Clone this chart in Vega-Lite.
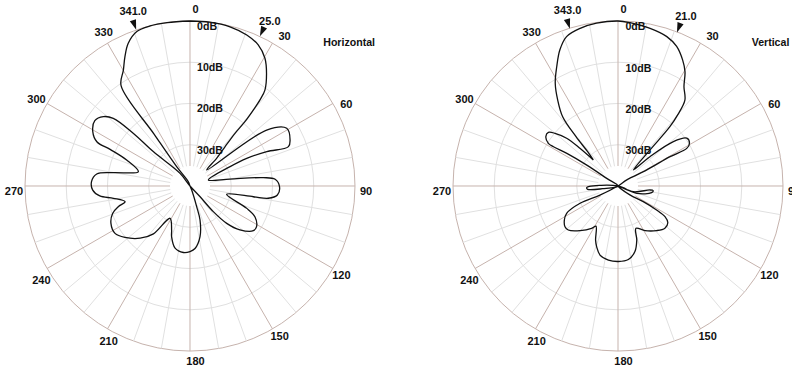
{
  "$schema": "https://vega.github.io/schema/vega-lite/v6.json",
  "padding": 0,
  "spacing": 0,
  "background": "white",
  "config": {
    "view": {"stroke": null},
    "text": {"font": "Liberation Sans", "fontWeight": "bold", "fontSize": 11, "color": "#111"}
  },
  "datasets": {
    "rings": [{"db": 0}, {"db": 10}, {"db": 20}, {"db": 30}],
    "dblabels": [{"db": 0, "label": "0dB"}, {"db": 10, "label": "10dB"}, {"db": 20, "label": "20dB"}, {"db": 30, "label": "30dB"}],
    "spokes": [
      {"angle": 0}, {"angle": 10}, {"angle": 20}, {"angle": 30}, {"angle": 40}, {"angle": 50},
      {"angle": 60}, {"angle": 70}, {"angle": 80}, {"angle": 90}, {"angle": 100}, {"angle": 110},
      {"angle": 120}, {"angle": 130}, {"angle": 140}, {"angle": 150}, {"angle": 160}, {"angle": 170},
      {"angle": 180}, {"angle": 190}, {"angle": 200}, {"angle": 210}, {"angle": 220}, {"angle": 230},
      {"angle": 240}, {"angle": 250}, {"angle": 260}, {"angle": 270}, {"angle": 280}, {"angle": 290},
      {"angle": 300}, {"angle": 310}, {"angle": 320}, {"angle": 330}, {"angle": 340}, {"angle": 350}
    ],
    "markers": [
      {"panel": "H", "angle": 341, "label": "341.0"},
      {"panel": "H", "angle": 25, "label": "25.0"},
      {"panel": "V", "angle": 343, "label": "343.0"},
      {"panel": "V", "angle": 21, "label": "21.0"}
    ],
    "pattern": [
      {"panel": "H", "angle": 0, "db": 0}, {"panel": "H", "angle": 6.9, "db": 0}, {"panel": "H", "angle": 14.1, "db": 0.2},
      {"panel": "H", "angle": 20.6, "db": 0.9}, {"panel": "H", "angle": 25.8, "db": 2.0}, {"panel": "H", "angle": 30.4, "db": 4.1},
      {"panel": "H", "angle": 34.2, "db": 7.0}, {"panel": "H", "angle": 38.0, "db": 10.5}, {"panel": "H", "angle": 39.1, "db": 13.1},
      {"panel": "H", "angle": 39.8, "db": 16.0}, {"panel": "H", "angle": 40.5, "db": 19.5}, {"panel": "H", "angle": 40.5, "db": 23.2},
      {"panel": "H", "angle": 41.7, "db": 27.2}, {"panel": "H", "angle": 43.9, "db": 30.7}, {"panel": "H", "angle": 46.2, "db": 34.4},
      {"panel": "H", "angle": 53.9, "db": 17.0}, {"panel": "H", "angle": 59.2, "db": 12.7}, {"panel": "H", "angle": 65.3, "db": 13.3},
      {"panel": "H", "angle": 68.2, "db": 14.3}, {"panel": "H", "angle": 65.9, "db": 19.6}, {"panel": "H", "angle": 64.0, "db": 24.7},
      {"panel": "H", "angle": 64.2, "db": 29.2}, {"panel": "H", "angle": 71.9, "db": 35.3},
      {"panel": "H", "angle": 80.1, "db": 30.2}, {"panel": "H", "angle": 83.5, "db": 22.1}, {"panel": "H", "angle": 85.5, "db": 19.3},
      {"panel": "H", "angle": 90.4, "db": 18.3}, {"panel": "H", "angle": 95.9, "db": 18.7}, {"panel": "H", "angle": 98.9, "db": 20.8},
      {"panel": "H", "angle": 99.6, "db": 24.4}, {"panel": "H", "angle": 102.8, "db": 30.9},
      {"panel": "H", "angle": 111.5, "db": 25.2}, {"panel": "H", "angle": 115.3, "db": 22.6}, {"panel": "H", "angle": 121.4, "db": 21.1},
      {"panel": "H", "angle": 125.2, "db": 21.2}, {"panel": "H", "angle": 131.3, "db": 23.9}, {"panel": "H", "angle": 135.5, "db": 27.3},
      {"panel": "H", "angle": 137.7, "db": 31.6}, {"panel": "H", "angle": 136.8, "db": 36.5}, {"panel": "H", "angle": 136.8, "db": 40},
      {"panel": "H", "angle": 321.7, "db": 36.1}, {"panel": "H", "angle": 313.1, "db": 27.8}, {"panel": "H", "angle": 312.9, "db": 21.2},
      {"panel": "H", "angle": 311.4, "db": 15.2}, {"panel": "H", "angle": 308.7, "db": 13.1}, {"panel": "H", "angle": 304.5, "db": 12.0},
      {"panel": "H", "angle": 299.2, "db": 13.0}, {"panel": "H", "angle": 295.4, "db": 15.0}, {"panel": "H", "angle": 294.6, "db": 18.7},
      {"panel": "H", "angle": 292.3, "db": 23.4}, {"panel": "H", "angle": 285.5, "db": 27.0},
      {"panel": "H", "angle": 279.9, "db": 21.1}, {"panel": "H", "angle": 277.3, "db": 17.2}, {"panel": "H", "angle": 272.5, "db": 16.1},
      {"panel": "H", "angle": 267.6, "db": 16.4}, {"panel": "H", "angle": 263.7, "db": 18.0}, {"panel": "H", "angle": 260.9, "db": 21.2},
      {"panel": "H", "angle": 256.4, "db": 23.8},
      {"panel": "H", "angle": 253.9, "db": 21.9}, {"panel": "H", "angle": 250.5, "db": 20.1}, {"panel": "H", "angle": 244.7, "db": 18.8},
      {"panel": "H", "angle": 237.7, "db": 18.5}, {"panel": "H", "angle": 231.7, "db": 19.9}, {"panel": "H", "angle": 223.7, "db": 22.5},
      {"panel": "H", "angle": 217.4, "db": 25.4}, {"panel": "H", "angle": 211.7, "db": 30.8},
      {"panel": "H", "angle": 202.6, "db": 28.4}, {"panel": "H", "angle": 199.9, "db": 26.9}, {"panel": "H", "angle": 193.5, "db": 24.5},
      {"panel": "H", "angle": 185.7, "db": 23.8}, {"panel": "H", "angle": 180, "db": 24.1}, {"panel": "H", "angle": 175.4, "db": 24.8},
      {"panel": "H", "angle": 168.8, "db": 27.5}, {"panel": "H", "angle": 163.6, "db": 31.4}, {"panel": "H", "angle": 162.1, "db": 34.7},
      {"panel": "H", "angle": 157, "db": 39.0}, {"panel": "H", "angle": 339, "db": 40},
      {"panel": "H", "angle": 339, "db": 38.9}, {"panel": "H", "angle": 325.4, "db": 34.3}, {"panel": "H", "angle": 325.3, "db": 24.7},
      {"panel": "H", "angle": 325.5, "db": 10.5}, {"panel": "H", "angle": 330.1, "db": 7.6}, {"panel": "H", "angle": 333.3, "db": 4.9},
      {"panel": "H", "angle": 336.6, "db": 2.3}, {"panel": "H", "angle": 341, "db": 0.4}, {"panel": "H", "angle": 346, "db": 0},
      {"panel": "H", "angle": 352, "db": 0}, {"panel": "H", "angle": 360, "db": 0},

      {"panel": "V", "angle": 316.5, "db": 31.3}, {"panel": "V", "angle": 318.5, "db": 28.9}, {"panel": "V", "angle": 319.6, "db": 24.3},
      {"panel": "V", "angle": 321.4, "db": 18.5}, {"panel": "V", "angle": 325, "db": 14.5}, {"panel": "V", "angle": 328.6, "db": 10.8},
      {"panel": "V", "angle": 332.8, "db": 7.5}, {"panel": "V", "angle": 336.9, "db": 4.1}, {"panel": "V", "angle": 341, "db": 1.7},
      {"panel": "V", "angle": 346.5, "db": 0.7}, {"panel": "V", "angle": 352.5, "db": 0.2}, {"panel": "V", "angle": 360, "db": 0},
      {"panel": "V", "angle": 4.2, "db": 0.3}, {"panel": "V", "angle": 11.5, "db": 1.0}, {"panel": "V", "angle": 18.1, "db": 1.9},
      {"panel": "V", "angle": 22.8, "db": 3.3}, {"panel": "V", "angle": 27.2, "db": 5.7}, {"panel": "V", "angle": 30.4, "db": 7.9},
      {"panel": "V", "angle": 33.6, "db": 11.1}, {"panel": "V", "angle": 37.9, "db": 13.6}, {"panel": "V", "angle": 40, "db": 17.5},
      {"panel": "V", "angle": 41.2, "db": 20.9}, {"panel": "V", "angle": 41.6, "db": 28.3}, {"panel": "V", "angle": 43.8, "db": 34.6},
      {"panel": "V", "angle": 47.5, "db": 29.5}, {"panel": "V", "angle": 51.3, "db": 22.8}, {"panel": "V", "angle": 55.2, "db": 19.7},
      {"panel": "V", "angle": 59.1, "db": 19.8}, {"panel": "V", "angle": 61.3, "db": 21.0}, {"panel": "V", "angle": 60.6, "db": 25.5},
      {"panel": "V", "angle": 60.8, "db": 32.0}, {"panel": "V", "angle": 55.3, "db": 37.4}, {"panel": "V", "angle": 60, "db": 40},
      {"panel": "V", "angle": 243.4, "db": 35.1}, {"panel": "V", "angle": 245.5, "db": 29.9}, {"panel": "V", "angle": 242, "db": 25.9},
      {"panel": "V", "angle": 237.6, "db": 24.6}, {"panel": "V", "angle": 232.5, "db": 23.8}, {"panel": "V", "angle": 228.5, "db": 23.9},
      {"panel": "V", "angle": 220.4, "db": 25.8}, {"panel": "V", "angle": 211.9, "db": 27.9}, {"panel": "V", "angle": 208.8, "db": 28.9},
      {"panel": "V", "angle": 202.5, "db": 25.8}, {"panel": "V", "angle": 199.4, "db": 24.4}, {"panel": "V", "angle": 194.6, "db": 22.7},
      {"panel": "V", "angle": 187.4, "db": 21.9}, {"panel": "V", "angle": 179.7, "db": 21.7}, {"panel": "V", "angle": 172, "db": 22.0},
      {"panel": "V", "angle": 165.5, "db": 23.6}, {"panel": "V", "angle": 160.9, "db": 26.1}, {"panel": "V", "angle": 157, "db": 28.85},
      {"panel": "V", "angle": 148.8, "db": 27.35}, {"panel": "V", "angle": 139.1, "db": 25.7}, {"panel": "V", "angle": 132, "db": 24.7},
      {"panel": "V", "angle": 126.4, "db": 25.0}, {"panel": "V", "angle": 123.1, "db": 26.4}, {"panel": "V", "angle": 121.8, "db": 29.0},
      {"panel": "V", "angle": 121.7, "db": 32.8}, {"panel": "V", "angle": 126.9, "db": 36.4}, {"panel": "V", "angle": 120, "db": 40},
      {"panel": "V", "angle": 110.3, "db": 36.0}, {"panel": "V", "angle": 97.1, "db": 32.2}, {"panel": "V", "angle": 97.5, "db": 31.4},
      {"panel": "V", "angle": 101.2, "db": 31.7}, {"panel": "V", "angle": 111.4, "db": 35.1}, {"panel": "V", "angle": 110, "db": 40},
      {"panel": "V", "angle": 272, "db": 35.5}, {"panel": "V", "angle": 269.3, "db": 33.05}, {"panel": "V", "angle": 266.95, "db": 32.4},
      {"panel": "V", "angle": 263.7, "db": 32.6}, {"panel": "V", "angle": 260, "db": 36.2}, {"panel": "V", "angle": 270, "db": 40},
      {"panel": "V", "angle": 304.1, "db": 36.7}, {"panel": "V", "angle": 303.8, "db": 30.9}, {"panel": "V", "angle": 302.5, "db": 25.3},
      {"panel": "V", "angle": 301.3, "db": 21.7}, {"panel": "V", "angle": 301.5, "db": 20.2}, {"panel": "V", "angle": 304.4, "db": 18.8},
      {"panel": "V", "angle": 307.6, "db": 18.7}, {"panel": "V", "angle": 309.9, "db": 20.1}, {"panel": "V", "angle": 312.9, "db": 23.0},
      {"panel": "V", "angle": 314.7, "db": 27.0}, {"panel": "V", "angle": 316.5, "db": 31.3}
    ]
  },
  "resolve": {"scale": {"x": "independent", "y": "independent"}},
  "hconcat": [
    {
      "width": 396,
      "height": 367,
      "encoding": {
        "x": {"field": "x", "type": "quantitative", "scale": {"domain": [-46.0606, 49.9394], "nice": false, "zero": false}, "axis": null},
        "y": {"field": "y", "type": "quantitative", "scale": {"domain": [-43.8788, 45.0909], "nice": false, "zero": false}, "axis": null}
      },
      "layer": [
        {
          "data": {"name": "rings"},
          "transform": [{"calculate": "40 - datum.db", "as": "rr"}, {"calculate": "0", "as": "x"}, {"calculate": "0", "as": "y"}],
          "mark": {"type": "point", "shape": "circle", "filled": false, "strokeWidth": 1, "opacity": 1},
          "encoding": {
            "size": {"field": "rr", "type": "quantitative", "legend": null, "scale": {"type": "pow", "exponent": 2, "domain": [0, 40], "range": [0, 108900], "zero": true}},
            "color": {"condition": {"test": "datum.db == 0", "value": "#c6b3ad"}, "value": "#e0e0e0"}
          }
        },
        {
          "data": {"name": "spokes"},
          "transform": [
            {"calculate": "datum.angle * PI / 180", "as": "t"},
            {"calculate": "datum.angle % 30 == 0", "as": "major"},
            {"calculate": "4.85 * sin(datum.t)", "as": "x"},
            {"calculate": "4.85 * cos(datum.t)", "as": "y"},
            {"calculate": "40 * sin(datum.t)", "as": "xe"},
            {"calculate": "40 * cos(datum.t)", "as": "ye"}
          ],
          "mark": {"type": "rule", "strokeWidth": 1},
          "encoding": {
            "x2": {"field": "xe"},
            "y2": {"field": "ye"},
            "color": {"condition": {"test": "datum.major", "value": "#c6b3ad"}, "value": "#e0e0e0"},
            "order": {"field": "angle", "type": "quantitative"}
          }
        },
        {
          "data": {"name": "pattern"},
          "transform": [
            {"filter": "datum.panel == 'H'"},
            {"window": [{"op": "row_number", "as": "i"}]},
            {"calculate": "datum.angle * PI / 180", "as": "t"},
            {"calculate": "(40 - datum.db) * sin(datum.t)", "as": "x"},
            {"calculate": "(40 - datum.db) * cos(datum.t)", "as": "y"}
          ],
          "mark": {"type": "line", "color": "#111", "strokeWidth": 1.3, "strokeJoin": "round", "interpolate": "catmull-rom"},
          "encoding": {"order": {"field": "i", "type": "quantitative"}}
        },
        {
          "data": {"name": "spokes"},
          "transform": [
            {"filter": "datum.angle % 30 == 0"},
            {"calculate": "datum.angle * PI / 180", "as": "t"},
            {"calculate": "1.33 * cos(datum.t) + 1.38 * sin(datum.t)", "as": "d"},
            {"calculate": "42.67 * sin(datum.t) + datum.d * cos(datum.t)", "as": "x"},
            {"calculate": "42.67 * cos(datum.t) - datum.d * sin(datum.t)", "as": "y"},
            {"calculate": "'' + datum.angle", "as": "lab"}
          ],
          "mark": {"type": "text", "align": "center", "baseline": "middle"},
          "encoding": {"text": {"field": "lab", "type": "nominal"}}
        },
        {
          "data": {"name": "dblabels"},
          "transform": [{"calculate": "1.7", "as": "x"}, {"calculate": "40 - datum.db", "as": "y"}],
          "mark": {"type": "text", "align": "left", "baseline": "top", "dy": 1, "fontSize": 10.6},
          "encoding": {"text": {"field": "label", "type": "nominal"}}
        },
        {
          "data": {"name": "markers"},
          "transform": [
            {"filter": "datum.panel == 'H'"},
            {"calculate": "datum.angle * PI / 180", "as": "t"},
            {"calculate": "41.3 * sin(datum.t)", "as": "x"},
            {"calculate": "41.3 * cos(datum.t)", "as": "y"}
          ],
          "mark": {"type": "point", "shape": "M -0.65 -1 L 0.65 -1 L 0 1 Z", "filled": true, "color": "#111", "size": 100, "opacity": 1},
          "encoding": {"angle": {"field": "angle", "type": "quantitative", "scale": null}}
        },
        {
          "data": {"name": "markers"},
          "transform": [
            {"filter": "datum.panel == 'H'"},
            {"calculate": "(datum.angle + 0.9) * PI / 180", "as": "t"},
            {"calculate": "44.3 * sin(datum.t)", "as": "x"},
            {"calculate": "44.3 * cos(datum.t)", "as": "y"}
          ],
          "mark": {"type": "text", "align": "center", "baseline": "middle"},
          "encoding": {"text": {"field": "label", "type": "nominal"}}
        },
        {
          "data": {"values": [{"title": "Horizontal"}]},
          "transform": [{"calculate": "32.3", "as": "x"}, {"calculate": "34.7", "as": "y"}],
          "mark": {"type": "text", "align": "left", "baseline": "middle", "fontSize": 10.6},
          "encoding": {"text": {"field": "title", "type": "nominal"}}
        }
      ]
    },
    {
      "width": 396,
      "height": 367,
      "encoding": {
        "x": {"field": "x", "type": "quantitative", "scale": {"domain": [-53.8182, 42.1818], "nice": false, "zero": false}, "axis": null},
        "y": {"field": "y", "type": "quantitative", "scale": {"domain": [-43.8788, 45.0909], "nice": false, "zero": false}, "axis": null}
      },
      "layer": [
        {
          "data": {"name": "rings"},
          "transform": [{"calculate": "40 - datum.db", "as": "rr"}, {"calculate": "0", "as": "x"}, {"calculate": "0", "as": "y"}],
          "mark": {"type": "point", "shape": "circle", "filled": false, "strokeWidth": 1, "opacity": 1},
          "encoding": {
            "size": {"field": "rr", "type": "quantitative", "legend": null, "scale": {"type": "pow", "exponent": 2, "domain": [0, 40], "range": [0, 108900], "zero": true}},
            "color": {"condition": {"test": "datum.db == 0", "value": "#c6b3ad"}, "value": "#e0e0e0"}
          }
        },
        {
          "data": {"name": "spokes"},
          "transform": [
            {"calculate": "datum.angle * PI / 180", "as": "t"},
            {"calculate": "datum.angle % 30 == 0", "as": "major"},
            {"calculate": "4.85 * sin(datum.t)", "as": "x"},
            {"calculate": "4.85 * cos(datum.t)", "as": "y"},
            {"calculate": "40 * sin(datum.t)", "as": "xe"},
            {"calculate": "40 * cos(datum.t)", "as": "ye"}
          ],
          "mark": {"type": "rule", "strokeWidth": 1},
          "encoding": {
            "x2": {"field": "xe"},
            "y2": {"field": "ye"},
            "color": {"condition": {"test": "datum.major", "value": "#c6b3ad"}, "value": "#e0e0e0"},
            "order": {"field": "angle", "type": "quantitative"}
          }
        },
        {
          "data": {"name": "pattern"},
          "transform": [
            {"filter": "datum.panel == 'V'"},
            {"window": [{"op": "row_number", "as": "i"}]},
            {"calculate": "datum.angle * PI / 180", "as": "t"},
            {"calculate": "(40 - datum.db) * sin(datum.t)", "as": "x"},
            {"calculate": "(40 - datum.db) * cos(datum.t)", "as": "y"}
          ],
          "mark": {"type": "line", "color": "#111", "strokeWidth": 1.3, "strokeJoin": "round", "interpolate": "catmull-rom"},
          "encoding": {"order": {"field": "i", "type": "quantitative"}}
        },
        {
          "data": {"name": "spokes"},
          "transform": [
            {"filter": "datum.angle % 30 == 0"},
            {"calculate": "datum.angle * PI / 180", "as": "t"},
            {"calculate": "1.33 * cos(datum.t) + 1.38 * sin(datum.t)", "as": "d"},
            {"calculate": "42.67 * sin(datum.t) + datum.d * cos(datum.t)", "as": "x"},
            {"calculate": "42.67 * cos(datum.t) - datum.d * sin(datum.t)", "as": "y"},
            {"calculate": "'' + datum.angle", "as": "lab"}
          ],
          "mark": {"type": "text", "align": "center", "baseline": "middle"},
          "encoding": {"text": {"field": "lab", "type": "nominal"}}
        },
        {
          "data": {"name": "dblabels"},
          "transform": [{"calculate": "1.8", "as": "x"}, {"calculate": "40 - datum.db", "as": "y"}],
          "mark": {"type": "text", "align": "left", "baseline": "top", "dy": 1.5, "fontSize": 10.6},
          "encoding": {"text": {"field": "label", "type": "nominal"}}
        },
        {
          "data": {"name": "markers"},
          "transform": [
            {"filter": "datum.panel == 'V'"},
            {"calculate": "datum.angle * PI / 180", "as": "t"},
            {"calculate": "41.1 * sin(datum.t)", "as": "x"},
            {"calculate": "41.1 * cos(datum.t)", "as": "y"}
          ],
          "mark": {"type": "point", "shape": "M -0.65 -1 L 0.65 -1 L 0 1 Z", "filled": true, "color": "#111", "size": 100, "opacity": 1},
          "encoding": {"angle": {"field": "angle", "type": "quantitative", "scale": null}}
        },
        {
          "data": {"name": "markers"},
          "transform": [
            {"filter": "datum.panel == 'V'"},
            {"calculate": "(datum.angle + 0.9) * PI / 180", "as": "t"},
            {"calculate": "44.1 * sin(datum.t)", "as": "x"},
            {"calculate": "44.1 * cos(datum.t)", "as": "y"}
          ],
          "mark": {"type": "text", "align": "center", "baseline": "middle"},
          "encoding": {"text": {"field": "label", "type": "nominal"}}
        },
        {
          "data": {"values": [{"title": "Vertical"}]},
          "transform": [{"calculate": "32.4", "as": "x"}, {"calculate": "34.6", "as": "y"}],
          "mark": {"type": "text", "align": "left", "baseline": "middle", "fontSize": 10.6},
          "encoding": {"text": {"field": "title", "type": "nominal"}}
        }
      ]
    }
  ]
}
